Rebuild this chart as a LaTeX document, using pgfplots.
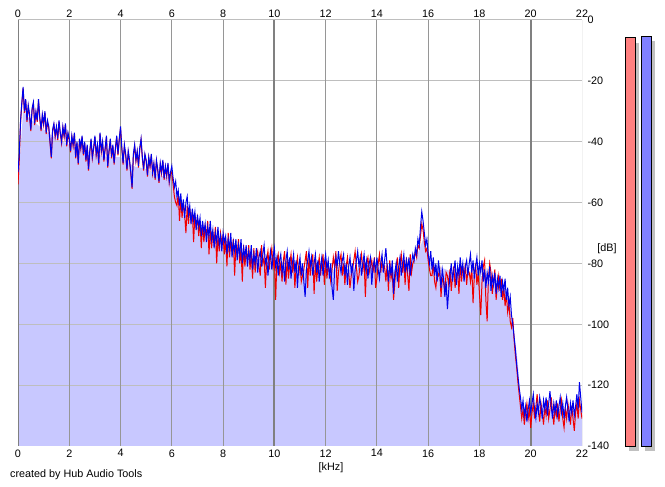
\documentclass[border=0pt]{standalone}
\usepackage{pgfplots}
\pgfplotsset{compat=1.18}
\usepackage{pgfplotstable}
\usepackage{fontspec}
\setmainfont{Liberation Sans}
\definecolor{fillc}{RGB}{200,200,255}
\definecolor{gridv}{RGB}{128,128,128}
\definecolor{gridvl}{RGB}{150,150,150}
\definecolor{gridh}{RGB}{190,190,190}
\definecolor{lineL}{RGB}{0,0,235}
\definecolor{lineR}{RGB}{240,0,0}
\definecolor{meterR}{RGB}{255,128,128}
\definecolor{meterB}{RGB}{128,128,255}
\definecolor{shadow}{RGB}{192,192,192}

\pgfplotstableread{
f L R
0.00 -50 -54
0.05 -44 -46
0.10 -33 -33.5
0.15 -27 -27.5
0.20 -22 -22.5
0.25 -30 -30.5
0.30 -26 -26.5
0.35 -33 -33.5
0.40 -28 -28.5
0.45 -31 -31.5
0.50 -36 -36.5
0.55 -29 -29.5
0.60 -27 -27.5
0.65 -34 -34.5
0.70 -30 -30.5
0.75 -33 -33.5
0.80 -26 -26.5
0.85 -32 -32.5
0.90 -36 -36.5
0.95 -31 -31.5
1.00 -34 -34.5
1.05 -30 -30.5
1.10 -37 -37.5
1.15 -33 -33.5
1.20 -35 -35.5
1.25 -40 -40.5
1.30 -45 -45.5
1.35 -36 -36.5
1.40 -34 -34.5
1.45 -38 -38.5
1.50 -35 -35.5
1.55 -39 -39.5
1.60 -33 -33.5
1.65 -37 -37.5
1.70 -40 -40.5
1.75 -35 -35.5
1.80 -38 -38.5
1.85 -34 -34.5
1.90 -41 -41.5
1.95 -37 -37.5
2.00 -39 -39.5
2.05 -43 -43.5
2.10 -38 -38.5
2.15 -41 -41.5
2.20 -37 -37.5
2.25 -45 -45.5
2.30 -40 -40.5
2.35 -47 -47.5
2.40 -39 -39.5
2.45 -42 -42.5
2.50 -38 -38.5
2.55 -44 -44.5
2.60 -40 -40.5
2.65 -46 -46.5
2.70 -41 -41.5
2.75 -49 -49.5
2.80 -43 -43.5
2.85 -39 -39.5
2.90 -45 -45.5
2.95 -42 -42.5
3.00 -38 -38.5
3.05 -44 -44.5
3.10 -41 -41.5
3.15 -47 -47.5
3.20 -37 -37.5
3.25 -43 -43.5
3.30 -40 -40.5
3.35 -46 -46.5
3.40 -42 -42.5
3.45 -38 -38.5
3.50 -48 -48.5
3.55 -43 -43.5
3.60 -39 -39.5
3.65 -45 -45.5
3.70 -41 -41.5
3.75 -47 -47.5
3.80 -42 -42.5
3.85 -38 -38.5
3.90 -44 -44.5
3.95 -39 -39.5
4.00 -35 -35.5
4.05 -42 -42.5
4.10 -47 -47.5
4.15 -41 -41.5
4.20 -44 -44.5
4.25 -49 -49.5
4.30 -43 -43.5
4.35 -46 -46.5
4.40 -50 -50.5
4.45 -55 -55.5
4.50 -44 -44.5
4.55 -41 -41.5
4.60 -46 -46.5
4.65 -43 -43.5
4.70 -48 -48.5
4.75 -42 -42.5
4.80 -39 -39.5
4.85 -45 -45.5
4.90 -49 -49.5
4.95 -44 -44.5
5.00 -46 -46.5
5.05 -51 -51.5
5.10 -45 -45.5
5.15 -48 -48.5
5.20 -44 -44.5
5.25 -50 -50.5
5.30 -47 -47.5
5.35 -52 -52.5
5.40 -46 -46.5
5.45 -49 -49.5
5.50 -53 -53.5
5.55 -47 -47.5
5.60 -50 -50.5
5.65 -46 -46.5
5.70 -52 -52.5
5.75 -48 -48.5
5.80 -51 -51.5
5.85 -47 -47.5
5.90 -53 -53.5
5.95 -50 -50.5
6.00 -48 -50
6.05 -52 -54
6.10 -55 -58
6.15 -53 -60
6.20 -58 -61
6.25 -56 -57
6.30 -61 -66
6.35 -57 -59
6.40 -63 -65
6.45 -59 -60
6.50 -65 -64
6.55 -60 -70
6.60 -58 -61
6.65 -64 -67
6.70 -61 -62
6.75 -67 -66
6.80 -62 -63
6.85 -66 -73
6.90 -63 -64
6.95 -69 -68
7.00 -64 -65
7.05 -68 -71
7.10 -65 -66
7.15 -71 -75
7.20 -66 -67
7.25 -70 -73
7.30 -67 -68
7.35 -73 -71
7.40 -68 -66
7.45 -71 -77
7.50 -66 -69
7.55 -72 -75
7.60 -69 -70
7.65 -75 -73
7.70 -70 -68
7.75 -73 -80
7.80 -68 -71
7.85 -74 -76
7.90 -71 -70
7.95 -76 -73
8.00 -70 -71
8.05 -73 -77
8.10 -71 -72
8.15 -77 -81
8.20 -72 -70
8.25 -75 -78
8.30 -70 -73
8.35 -78 -76
8.40 -73 -72
8.45 -76 -84
8.50 -72 -74
8.55 -79 -77
8.60 -74 -72
8.65 -77 -80
8.70 -72 -75
8.75 -80 -86
8.80 -75 -74
8.85 -78 -81
8.90 -74 -76
8.95 -81 -79
9.00 -76 -74
9.05 -79 -82
9.10 -74 -77
9.15 -82 -85
9.20 -77 -75
9.25 -80 -83
9.30 -75 -78
9.35 -83 -76
9.40 -78 -81
9.45 -76 -84
9.50 -81 -74
9.55 -77 -80
9.60 -74 -78
9.65 -80 -88
9.70 -78 -79
9.75 -84 -76
9.80 -79 -82
9.85 -76 -78
9.90 -82 -75
9.95 -78 -81
10.00 -75 -78
10.05 -81 -92
10.10 -78 -79
10.15 -84 -77
10.20 -79 -83
10.25 -77 -80
10.30 -83 -86
10.35 -80 -79
10.40 -86 -76
10.45 -79 -87
10.50 -76 -78
10.55 -82 -85
10.60 -78 -80
10.65 -85 -77
10.70 -80 -83
10.75 -77 -79
10.80 -83 -88
10.85 -79 -81
10.90 -88 -78
10.95 -81 -84
11.00 -78 -80
11.05 -84 -86
11.10 -80 -84
11.15 -86 -82
11.20 -91 -79
11.25 -82 -76
11.30 -79 -88
11.35 -76 -78
11.40 -81 -84
11.45 -78 -80
11.50 -84 -77
11.55 -80 -90
11.60 -77 -79
11.65 -83 -86
11.70 -79 -81
11.75 -86 -78
11.80 -81 -84
11.85 -78 -80
11.90 -84 -77
11.95 -80 -87
12.00 -77 -79
12.05 -82 -85
12.10 -79 -80
12.15 -85 -83
12.20 -80 -86
12.25 -88 -82
12.30 -92 -78
12.35 -82 -81
12.40 -78 -76
12.45 -81 -89
12.50 -76 -83
12.55 -80 -79
12.60 -83 -77
12.65 -79 -84
12.70 -77 -80
12.75 -84 -87
12.80 -80 -81
12.85 -87 -78
12.90 -81 -83
12.95 -78 -88
13.00 -83 -84
13.05 -80 -82
13.10 -89 -79
13.15 -82 -76
13.20 -79 -81
13.25 -76 -86
13.30 -81 -84
13.35 -78 -80
13.40 -84 -77
13.45 -80 -82
13.50 -77 -79
13.55 -82 -91
13.60 -79 -80
13.65 -85 -78
13.70 -80 -83
13.75 -78 -81
13.80 -87 -79
13.85 -81 -83
13.90 -79 -78
13.95 -83 -88
14.00 -78 -85
14.05 -82 -80
14.10 -85 -77
14.15 -80 -83
14.20 -77 -79
14.25 -83 -82
14.30 -79 -81
14.35 -75 -86
14.40 -81 -80
14.45 -86 -89
14.50 -80 -79
14.55 -84 -85
14.60 -79 -83
14.65 -90 -92
14.70 -83 -86
14.75 -80 -81
14.80 -86 -78
14.85 -81 -88
14.90 -78 -80
14.95 -84 -77
15.00 -80 -83
15.05 -77 -79
15.10 -83 -87
15.15 -79 -78
15.20 -82 -84
15.25 -78 -89
15.30 -84 -77
15.35 -80 -83
15.40 -77 -80
15.45 -79 -79
15.50 -75 -76
15.55 -77 -78
15.60 -72 -74
15.65 -74 -75
15.70 -68 -71
15.75 -63 -67
15.80 -66 -69
15.85 -70 -73
15.90 -74 -76
15.95 -72 -75
16.00 -77 -79
16.05 -80 -82
16.10 -76 -84
16.15 -82 -84
16.20 -78 -80
16.25 -84 -86
16.30 -80 -88
16.35 -86 -83
16.40 -79 -84
16.45 -83 -82
16.50 -88 -91
16.55 -82 -85
16.60 -85 -86
16.65 -91 -89
16.70 -86 -83
16.75 -95 -84
16.80 -89 -87
16.85 -84 -82
16.90 -80 -89
16.95 -86 -84
17.00 -82 -81
17.05 -79 -88
17.10 -87 -84
17.15 -81 -83
17.20 -84 -90
17.25 -78 -80
17.30 -83 -86
17.35 -80 -81
17.40 -86 -85
17.45 -81 -80
17.50 -79 -87
17.55 -84 -82
17.60 -80 -83
17.65 -77 -86
17.70 -83 -81
17.75 -79 -93
17.80 -85 -84
17.85 -81 -80
17.90 -78 -87
17.95 -84 -83
18.00 -80 -90
18.05 -83 -97
18.10 -79 -86
18.15 -86 -81
18.20 -82 -79
18.25 -88 -92
18.30 -83 -99
18.35 -86 -85
18.40 -81 -80
18.45 -89 -83
18.50 -84 -90
18.55 -87 -86
18.60 -83 -82
18.65 -90 -92
18.70 -85 -87
18.75 -88 -84
18.80 -84 -89
18.85 -91 -85
18.90 -86 -92
18.95 -89 -88
19.00 -85 -94
19.05 -92 -90
19.10 -88 -96
19.15 -94 -93
19.20 -91 -99
19.25 -97 -101
19.30 -100 -98
19.35 -104 -105
19.40 -108 -110
19.45 -113 -114
19.50 -117 -119
19.55 -121 -123
19.60 -124 -127
19.65 -128 -131
19.70 -125 -128
19.75 -130 -133
19.80 -127 -129
19.85 -132 -126
19.90 -128 -131
19.95 -125 -128
20.00 -129 -134
20.05 -126 -129
20.10 -123 -126
20.15 -128 -131
20.20 -131 -127
20.25 -126 -123
20.30 -129 -128
20.35 -124 -132
20.40 -127 -126
20.45 -131 -129
20.50 -125 -133
20.55 -128 -127
20.60 -124 -130
20.65 -130 -125
20.70 -126 -131
20.75 -122 -128
20.80 -127 -124
20.85 -131 -129
20.90 -126 -133
20.95 -129 -127
21.00 -125 -130
21.05 -130 -126
21.10 -127 -132
21.15 -124 -128
21.20 -129 -125
21.25 -126 -131
21.30 -131 -134
21.35 -127 -128
21.40 -124 -131
21.45 -128 -126
21.50 -132 -129
21.55 -126 -133
21.60 -129 -127
21.65 -125 -131
21.70 -130 -135
21.75 -127 -129
21.80 -123 -126
21.85 -128 -131
21.90 -119 -125
21.95 -124 -128
22.00 -129 -131
}\spectrum

\pgfplotstableread{
f A
0.0 -140
0.0 -55
0.1 -42
0.2 -30
0.4 -32
0.7 -34
1.0 -36
1.5 -39
2.0 -41
2.5 -43
3.0 -44
3.5 -45
4.0 -45
4.5 -48
5.0 -49
5.5 -51
6.0 -52
6.2 -58
6.5 -64
7.0 -68
7.5 -71
8.0 -73
8.5 -75
9.0 -77
9.5 -79
10.0 -81
11.0 -82
12.0 -82
13.0 -82
14.0 -82
15.0 -82
15.5 -79
15.8 -72
16.1 -80
17.0 -83
18.0 -84
18.8 -86
19.1 -90
19.3 -99
19.5 -113
19.6 -125
19.8 -128
22.0 -128
22.0 -140
}\average

\begin{document}
\begin{tikzpicture}
\useasboundingbox (0,0) rectangle (665bp,487bp);
\begin{axis}[
  at={(18bp,41bp)}, anchor=south west,
  scale only axis, width=564bp, height=426bp,
  xmin=0, xmax=22, ymin=-140, ymax=0,
  axis line style={draw=none},
  major tick length=0pt,
  xtick={0,2,...,22}, ytick={0,-20,...,-140},
  xticklabel pos=upper, yticklabel pos=right,
  tick label style={font=\fontsize{10.8bp}{12bp}\selectfont},
  /pgf/number format/assume math mode=true,
  xticklabel style={yshift=-1bp},
  yticklabel style={anchor=west, xshift=2bp},
  clip=true,
]
\addplot[fill=fillc, draw=none] table[x=f, y=A] {\average};
\draw[gridh, line width=1bp] (axis cs:0,0) -- (axis cs:22,0);
\draw[gridh, line width=1bp] (axis cs:0,-20) -- (axis cs:22,-20);
\draw[gridh, line width=1bp] (axis cs:0,-40) -- (axis cs:22,-40);
\draw[gridh, line width=1bp] (axis cs:0,-60) -- (axis cs:22,-60);
\draw[gridh, line width=1bp] (axis cs:0,-80) -- (axis cs:22,-80);
\draw[gridh, line width=1bp] (axis cs:0,-100) -- (axis cs:22,-100);
\draw[gridh, line width=1bp] (axis cs:0,-120) -- (axis cs:22,-120);
\draw[gridv, line width=2.2bp] (axis cs:0,0) -- (axis cs:0,-140);
\draw[gridvl, line width=1bp] (axis cs:2,0) -- (axis cs:2,-140);
\draw[gridvl, line width=1bp] (axis cs:4,0) -- (axis cs:4,-140);
\draw[gridvl, line width=1bp] (axis cs:6,0) -- (axis cs:6,-140);
\draw[gridvl, line width=1bp] (axis cs:8,0) -- (axis cs:8,-140);
\draw[gridv, line width=2.2bp] (axis cs:10,0) -- (axis cs:10,-140);
\draw[gridvl, line width=1bp] (axis cs:12,0) -- (axis cs:12,-140);
\draw[gridvl, line width=1bp] (axis cs:14,0) -- (axis cs:14,-140);
\draw[gridvl, line width=1bp] (axis cs:16,0) -- (axis cs:16,-140);
\draw[gridvl, line width=1bp] (axis cs:18,0) -- (axis cs:18,-140);
\draw[gridv, line width=2.2bp] (axis cs:20,0) -- (axis cs:20,-140);
\draw[gridvl, line width=1bp] (axis cs:22,0) -- (axis cs:22,-140);
\addplot[lineR, line width=1bp, no markers] table[x=f, y=R] {\spectrum};
\addplot[lineL, line width=1bp, no markers] table[x=f, y=L] {\spectrum};
\end{axis}
\begin{axis}[
  at={(18bp,41bp)}, anchor=south west,
  scale only axis, width=564bp, height=426bp,
  xmin=0, xmax=22, ymin=-140, ymax=0,
  axis line style={draw=none},
  major tick length=0pt,
  xtick={0,2,...,22}, ytick=\empty,
  xticklabel pos=lower,
  tick label style={font=\fontsize{10.8bp}{12bp}\selectfont},
  /pgf/number format/assume math mode=true,
]
\end{axis}
\begin{axis}[
  at={(600bp,41bp)}, anchor=south west,
  scale only axis, width=65bp, height=426bp,
  xmin=600, xmax=665, ymin=-140, ymax=0,
  hide axis, clip=false,
]
\addplot[fill=shadow, draw=none] coordinates {(629,-141.6) (629,-7.5) (639,-7.5) (639,-141.6)} -- cycle;
\addplot[fill=shadow, draw=none] coordinates {(645,-141.6) (645,-6.9) (655,-6.9) (655,-141.6)} -- cycle;
\addplot[fill=meterR, draw=black, line width=0.9bp] coordinates {(625,-140) (625,-5.9) (635,-5.9) (635,-140)} -- cycle;
\addplot[fill=meterB, draw=black, line width=0.9bp] coordinates {(641,-140) (641,-5.3) (651,-5.3) (651,-140)} -- cycle;
\end{axis}
\node[font=\fontsize{10.8bp}{12bp}\selectfont] at (607bp,238bp) {[dB]};
\node[font=\fontsize{10.8bp}{12bp}\selectfont] at (331bp,19bp) {[kHz]};
\node[font=\fontsize{10.8bp}{12bp}\selectfont, anchor=west, inner sep=0pt] at (10bp,12bp) {created by Hub Audio Tools};
\end{tikzpicture}
\end{document}
